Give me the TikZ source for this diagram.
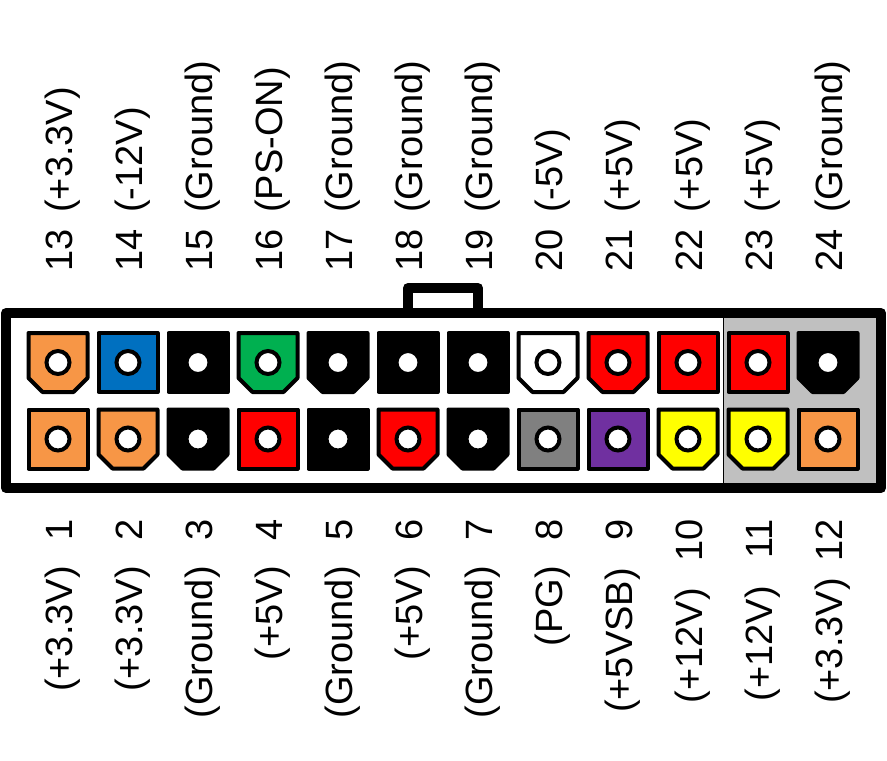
\documentclass[tikz,border=0pt]{standalone}
\usepackage{fontspec}
\setmainfont{Liberation Sans}
\definecolor{pinorange}{RGB}{247,150,70}
\definecolor{pinblue}{RGB}{0,112,192}
\definecolor{pingreen}{RGB}{0,176,80}
\definecolor{pinred}{RGB}{255,0,0}
\definecolor{pinyellow}{RGB}{255,255,0}
\definecolor{pinpurple}{RGB}{112,48,160}
\definecolor{pingray}{RGB}{128,128,128}
\definecolor{shellgray}{RGB}{192,192,192}
\tikzset{
  pinspot/.style={rectangle, minimum size=59pt, inner sep=0pt, outer sep=0pt},
  pinbody/.style={draw=black, line width=4pt, line join=round},
  hole/.style={circle, draw=black, fill=white, line width=4pt, minimum size=23pt, inner sep=0pt},
  pinlabel/.style={rotate=90, font=\fontsize{38pt}{38pt}\selectfont, inner sep=0pt}
}
\newcommand{\pinoutline}[2]{% node name, size of the cut corners
  (#1.north west) -- (#1.north east) -- ([yshift=#2pt]#1.south east) -- ([xshift=-#2pt]#1.south east)
  -- ([xshift=#2pt]#1.south west) -- ([yshift=#2pt]#1.south west) -- cycle}

\begin{document}
\begin{tikzpicture}[x=1pt, y=-1pt]
  \useasboundingbox (0,0) rectangle (887,761);

  % shell
  \fill[shellgray] (723,313) rectangle (881,488);
  \draw[line width=0.8pt] (723,313) -- (723,488);
  \draw[line width=10pt, line join=round] (408,313) -- (408,288) -- (478,288) -- (478,313);
  \draw[line width=10pt, line join=round] (6,313) rectangle (881,488);

  % upper row
  \foreach \num/\xpos/\cutsize/\col/\txt in {
    13/58/14/pinorange/(+3.3V), 14/128/0/pinblue/(-12V), 15/198/0/black/(Ground),
    16/268/14/pingreen/(PS-ON), 17/338/14/black/(Ground), 18/408/0/black/(Ground),
    19/478/0/black/(Ground), 20/548/14/white/(-5V), 21/618/14/pinred/(+5V),
    22/688/0/pinred/(+5V), 23/758/0/pinred/(+5V), 24/828/14/black/(Ground)}{
    \node[pinspot] (pin\num) at (\xpos,362.5) {};
    \draw[pinbody, fill=\col] \pinoutline{pin\num}{\cutsize};
    \node[hole] (hole\num) at (pin\num.center) {};
    \node[pinlabel, anchor=base west] (num\num) at (\xpos+14,272) {\num};
    \node[pinlabel, anchor=base west] (txt\num) at (\xpos+14,213) {\txt};
  }

  % lower row
  \foreach \num/\xpos/\cutsize/\col/\txt/\txtend in {
    1/58/0/pinorange/(+3.3V)/566, 2/128/14/pinorange/(+3.3V)/566, 3/198/14/black/(Ground)/566,
    4/268/0/pinred/(+5V)/566, 5/338/0/black/(Ground)/566, 6/408/14/pinred/(+5V)/566,
    7/478/14/black/(Ground)/566, 8/548/0/pingray/(PG)/566, 9/618/0/pinpurple/(+5VSB)/568,
    10/688/14/pinyellow/(+12V)/588, 11/758/14/pinyellow/(+12V)/586, 12/828/0/pinorange/(+3.3V)/578}{
    \node[pinspot] (pin\num) at (\xpos,439) {};
    \draw[pinbody, fill=\col] \pinoutline{pin\num}{\cutsize};
    \node[hole] (hole\num) at (pin\num.center) {};
    \node[pinlabel, anchor=base east] (num\num) at (\xpos+14,519) {\num};
    \node[pinlabel, anchor=base east] (txt\num) at (\xpos+14,\txtend) {\txt};
  }
\end{tikzpicture}
\end{document}
